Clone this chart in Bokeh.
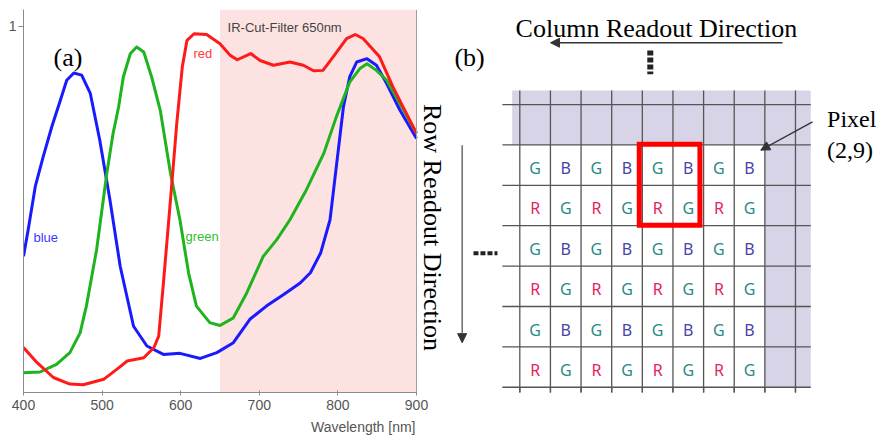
import math
from bokeh.plotting import figure
from bokeh.models import (Range1d, FixedTicker, BoxAnnotation, Span, Arrow, NormalHead, LinearAxis, Title)
from bokeh.core.properties import value
from bokeh.embed import file_html
from bokeh.resources import INLINE

# ---------------- data: panel (a) spectral response ----------------
blue_nm = [400, 406, 415, 425, 436, 447, 455, 464, 474, 485, 497, 510, 523, 540, 557, 578, 599, 625, 646, 667,
           688, 709, 731, 752, 765, 778, 790, 798, 807, 815, 824, 837, 849, 862, 879, 900]
blue_qe = [.372, .445, .563, .644, .726, .799, .853, .873, .867, .817, .690, .526, .345, .181, .127, .104, .107, .093, .109, .136,
           .200, .236, .268, .299, .327, .381, .472, .617, .780, .862, .903, .912, .894, .844, .771, .694]

green_nm = [400, 421, 442, 459, 472, 480, 493, 506, 514, 521, 527, 536, 544, 553, 563, 574, 587, 599, 610, 620,
            637, 650, 667, 684, 705, 722, 739, 760, 782, 798, 815, 828, 837, 849, 862, 879, 900]
green_qe = [.054, .056, .077, .109, .163, .236, .390, .599, .708, .780, .862, .926, .944, .930, .862, .771, .599, .472, .327, .236,
            .191, .183, .204, .272, .372, .417, .472, .554, .653, .753, .848, .885, .898, .880, .853, .789, .708]

red_nm = [400, 417, 438, 459, 476, 502, 519, 532, 553, 566, 572, 578, 587, 595, 602, 608, 617, 633, 650, 663,
          672, 689, 701, 718, 739, 756, 769, 781, 794, 811, 822, 832, 853, 870, 900]
red_qe = [.123, .082, .041, .023, .021, .036, .064, .086, .095, .123, .154, .299, .526, .735, .889, .962, .980, .978, .953, .921,
          .909, .926, .907, .894, .903, .894, .879, .880, .917, .967, .978, .967, .917, .835, .708]

x_ticks = [400, 500, 600, 700, 800, 900]
y_ticks = [1]
ir_cut_nm = 650
wl_min, wl_max = 400, 900

# ---------------- data: panel (b) Bayer mosaic ----------------
bayer_rows = ["GBGBGBGB", "RGRGRGRG", "GBGBGBGB", "RGRGRGRG", "GBGBGBGB", "RGRGRGRG"]
letter_colors = {"G": "#2a8a88", "B": "#4a44a6", "R": "#e4245a"}
n_grid_cols = 10
n_grid_rows = 8

SANS = "Liberation Sans"
SERIF = "Liberation Serif"
INK = "#333333"

p = figure(width=879, height=439, output_backend="svg", toolbar_location=None,
           x_range=Range1d(wl_min, 1489.05), y_range=Range1d(0, 1.0463),
           x_axis_type=None, y_axis_type=None,
           min_border_left=23, min_border_right=0, min_border_top=9, min_border_bottom=46)
p.outline_line_color = None
p.background_fill_color = "white"
p.border_fill_color = "white"
p.extra_x_ranges = {"gx": Range1d(-16.203, 11.743)}
p.extra_y_ranges = {"gy": Range1d(7.130, -2.354)}
G = dict(x_range_name="gx", y_range_name="gy")

# ======================= panel (a) =======================
p.add_layout(BoxAnnotation(left=ir_cut_nm, right=wl_max, fill_color="#fde2e2", fill_alpha=1.0,
                           line_alpha=0, level="underlay"))
p.add_layout(Span(location=wl_max, dimension="height", line_color="#a0a0a0", line_width=1))

xaxis = LinearAxis(bounds=(wl_min, wl_max), ticker=FixedTicker(ticks=x_ticks))
yaxis = LinearAxis(ticker=FixedTicker(ticks=y_ticks))
for ax in (xaxis, yaxis):
    ax.axis_line_color = "#8c8c8c"
    ax.major_tick_line_color = "#8c8c8c"
    ax.minor_tick_line_color = None
    ax.major_label_text_color = "#555555"
    ax.major_label_text_font = SANS
    ax.major_label_text_font_size = "14px"
xaxis.major_tick_in = 2
xaxis.major_tick_out = 3
xaxis.major_label_standoff = 4
yaxis.major_tick_in = 0
yaxis.major_tick_out = 5
yaxis.major_label_standoff = 2
p.add_layout(xaxis, "below")
p.add_layout(yaxis, "left")

# right-aligned x-axis title under the 900 nm end of the axis
p.add_layout(Title(text="Wavelength [nm]", align="right", offset=464, standoff=9,
                   text_font=SANS, text_font_size="14px", text_font_style="normal",
                   text_color="#555555"), "below")

p.line(blue_nm, blue_qe, line_color="#1a1aff", line_width=3, line_join="round")
p.line(green_nm, green_qe, line_color="#1fb41f", line_width=3, line_join="round")
p.line(red_nm, red_qe, line_color="#ff1a1a", line_width=3, line_join="round")

p.text(x=[412.7], y=[0.423], text=["blue"], text_color="#3a3aff", text_font=value(SANS),
       text_font_size="13px", text_baseline="middle", text_align="left")
p.text(x=[606], y=[0.425], text=["green"], text_color="#2fbf2f", text_font=value(SANS),
       text_font_size="13px", text_baseline="middle", text_align="left")
p.text(x=[616.3], y=[0.926], text=["red"], text_color="#ff3a3a", text_font=value(SANS),
       text_font_size="13px", text_baseline="middle", text_align="left")
p.text(x=[659.6], y=[0.997], text=["IR-Cut-Filter 650nm"], text_color="#444444", text_font=value(SANS),
       text_font_size="13px", text_baseline="middle", text_align="left")
p.text(x=[456.6], y=[0.915], text=["(a)"], text_color="black", text_font=value(SERIF),
       text_font_size="26px", text_baseline="alphabetic", text_align="center")

# ======================= panel (b) =======================
p.quad(left=-0.25, right=n_grid_cols - 0.5, top=-0.35, bottom=n_grid_rows - 1,
       fill_color="#d8d4e7", line_color=None, **G)
p.quad(left=-0.25, right=len(bayer_rows[0]), top=1, bottom=1 + len(bayer_rows),
       fill_color="white", line_color=None, **G)

h_y = list(range(n_grid_rows))
p.segment(x0=[-0.57] * len(h_y), y0=h_y, x1=[n_grid_cols - 0.5] * len(h_y), y1=h_y,
          line_color="#555555", line_width=1.3, **G)
v_x = list(range(n_grid_cols))
p.segment(x0=v_x, y0=[-0.35] * len(v_x), x1=v_x, y1=[n_grid_rows - 0.66] * len(v_x),
          line_color="#555555", line_width=1.3, **G)
# short stubs of the column lines below the last row line (outside the plot frame)
for xv in v_x:
    p.add_layout(Arrow(end=None, x_start=xv, y_start=n_grid_rows - 1, x_end=xv, y_end=n_grid_rows - 0.66,
                       line_color="#555555", line_width=1.3, **G))

lx, ly, lt, lc = [], [], [], []
for r, rowstr in enumerate(bayer_rows):
    for c, ch in enumerate(rowstr):
        lx.append(c + 0.5)
        ly.append(r + 1 + 0.57)
        lt.append(ch)
        lc.append(letter_colors[ch])
p.text(x=lx, y=ly, text=lt, text_color=lc, text_font=value("Noto Sans"), text_font_size="16px",
       text_align="center", text_baseline="middle", **G)

p.quad(left=3.9, right=5.88, top=0.985, bottom=2.986, fill_color=None,
       line_color="#ff0000", line_width=5, line_join="miter", **G)

p.text(x=[4.46], y=[-1.877], text=["Column Readout Direction"], text_font=value(SERIF),
       text_font_size="26px", text_align="center", text_baseline="alphabetic", text_color="black", **G)
p.text(x=[-1.64], y=[-1.168], text=["(b)"], text_font=value(SERIF),
       text_font_size="26px", text_align="center", text_baseline="alphabetic", text_color="black", **G)
p.text(x=[10.03], y=[0.346], text=["Pixel"], text_font=value(SERIF),
       text_font_size="24px", text_align="left", text_baseline="alphabetic", text_color="black", **G)
p.text(x=[10.03], y=[1.129], text=["(2,9)"], text_font=value(SERIF),
       text_font_size="24px", text_align="left", text_baseline="alphabetic", text_color="black", **G)
p.text(x=[-2.85], y=[3.043], text=["Row Readout Direction"], text_font=value(SERIF),
       text_font_size="26px", text_align="center", text_baseline="middle", text_color="black",
       angle=-math.pi / 2, **G)

p.add_layout(Arrow(end=NormalHead(size=9, fill_color=INK, line_color=INK),
                   x_start=8.575, y_start=-1.531, x_end=1.003, y_end=-1.531,
                   line_color=INK, line_width=1.3, **G))
p.add_layout(Arrow(end=NormalHead(size=9, fill_color=INK, line_color=INK),
                   x_start=-1.882, y_start=1.005, x_end=-1.882, y_end=5.895,
                   line_color="#555555", line_width=1.3, **G))
p.add_layout(Arrow(end=NormalHead(size=9, fill_color=INK, line_color=INK),
                   x_start=9.556, y_start=0.43, x_end=7.866, y_end=1.129,
                   line_color=INK, line_width=1.3, **G))

p.segment(x0=[4.26], y0=[-1.34], x1=[4.26], y1=[-0.75], line_width=6, line_dash="5 2",
          line_color="#222222", line_cap="butt", **G)
p.segment(x0=[-1.513], y0=[3.68], x1=[-0.729], y1=[3.68], line_width=4, line_dash="5 2",
          line_color="#222222", line_cap="butt", **G)

open("out.html", "w").write(file_html(p, INLINE))
